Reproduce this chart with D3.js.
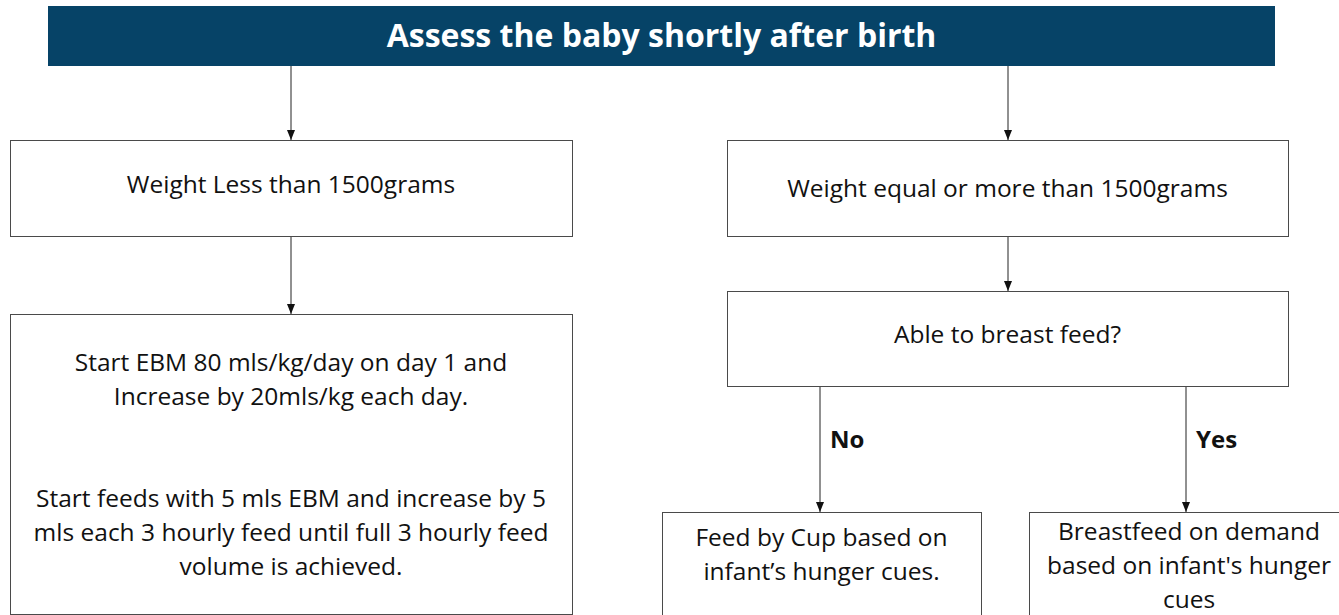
<!doctype html>
<html lang="en">
<head>
<meta charset="UTF-8">
<title>Assess the baby shortly after birth</title>
<script src="https://d3js.org/d3.v7.min.js"></script>
<style>
  body { margin: 0; background: #fff; }
  svg { display: block; }
  .box { fill: #fff; stroke: #4a4a4a; stroke-width: 1; }
  .link { stroke: #222; stroke-width: 1; fill: none; }
  .label { font-family: "Open Sans", sans-serif; font-size: 24.5px; fill: #111; }
  .branch { font-family: "Open Sans", sans-serif; font-size: 24px; font-weight: bold; fill: #111; }
  .title { font-family: "Open Sans", sans-serif; font-size: 32px; font-weight: bold; fill: #fff; }
</style>
</head>
<body>
<div id="chart"></div>
<script>
// flowchart content
const title = "Assess the baby shortly after birth";
const nodeIds = ["low", "high", "lowFeed", "able", "cup", "breast"];
const nodeLines = [
  ["Weight Less than 1500grams"],
  ["Weight equal or more than 1500grams"],
  ["Start EBM 80 mls/kg/day on day 1 and", "Increase by 20mls/kg each day.", "", "",
   "Start feeds with 5 mls EBM and increase by 5", "mls each 3 hourly feed until full 3 hourly feed", "volume is achieved."],
  ["Able to breast feed?"],
  ["Feed by Cup based on", "infant\u2019s hunger cues."],
  ["Breastfeed on demand", "based on infant's hunger", "cues"]
];
const linkFrom = ["title", "title", "low", "high", "able", "able"];
const linkTo   = ["low", "high", "lowFeed", "able", "cup", "breast"];
const linkLabels = ["", "", "", "", "No", "Yes"];

// layout (pixels)
const width = 1339, height = 615;
const header = {x: 48, y: 6, w: 1227, h: 60};
const layout = {
  low:     {x: 10,   y: 140, w: 562, h: 96,  ty: 193},
  high:    {x: 727,  y: 140, w: 561, h: 96,  ty: 197},
  lowFeed: {x: 10,   y: 314, w: 562, h: 300, ty: 371},
  able:    {x: 727,  y: 291, w: 561, h: 95,  ty: 343},
  cup:     {x: 662,  y: 512, w: 319, h: 110, ty: 546},
  breast:  {x: 1029, y: 512, w: 320, h: 110, ty: 540}
};
const linkX = [291, 1008, 291, 1008, 820, 1186];
const lineHeight = 34;

const svg = d3.select("#chart").append("svg")
  .attr("width", width).attr("height", height);

svg.append("defs").append("marker")
  .attr("id", "arrow")
  .attr("viewBox", "0 0 10 10")
  .attr("refX", 10).attr("refY", 5)
  .attr("markerWidth", 10).attr("markerHeight", 10)
  .attr("markerUnits", "userSpaceOnUse")
  .attr("orient", "auto")
  .append("path")
  .attr("d", "M0,1L10,5L0,9Z")
  .attr("fill", "#111");

// header bar
svg.append("rect")
  .attr("x", header.x).attr("y", header.y)
  .attr("width", header.w).attr("height", header.h)
  .attr("fill", "#064367");
svg.append("text")
  .attr("class", "title")
  .attr("x", header.x + header.w / 2)
  .attr("y", header.y + 41)
  .attr("text-anchor", "middle")
  .text(title);

const nodes = nodeIds.map((id, i) => Object.assign({id: id, lines: nodeLines[i]}, layout[id]));
const byId = {};
nodes.forEach(n => byId[n.id] = n);
byId.title = {y: header.y, h: header.h};

// links
const links = linkFrom.map((f, i) => ({
  x: linkX[i],
  y1: byId[f].y + byId[f].h,
  y2: byId[linkTo[i]].y,
  label: linkLabels[i]
}));

svg.selectAll(".link").data(links).join("line")
  .attr("class", "link")
  .attr("x1", d => d.x).attr("x2", d => d.x)
  .attr("y1", d => d.y1).attr("y2", d => d.y2)
  .attr("marker-end", "url(#arrow)");

svg.selectAll(".branch").data(links.filter(d => d.label)).join("text")
  .attr("class", "branch")
  .attr("x", d => d.x + 10)
  .attr("y", d => d.y1 + 62)
  .text(d => d.label);

// boxes
const g = svg.selectAll(".node").data(nodes).join("g").attr("class", "node");
g.append("rect")
  .attr("class", "box")
  .attr("x", d => d.x + 0.5).attr("y", d => d.y + 0.5)
  .attr("width", d => d.w).attr("height", d => d.h);

g.append("text")
  .attr("class", "label")
  .attr("text-anchor", "middle")
  .each(function (d) {
    const t = d3.select(this);
    d.lines.forEach((line, i) => {
      t.append("tspan")
        .attr("x", d.x + d.w / 2)
        .attr("y", d.ty + i * lineHeight)
        .text(line);
    });
  });
</script>
</body>
</html>
